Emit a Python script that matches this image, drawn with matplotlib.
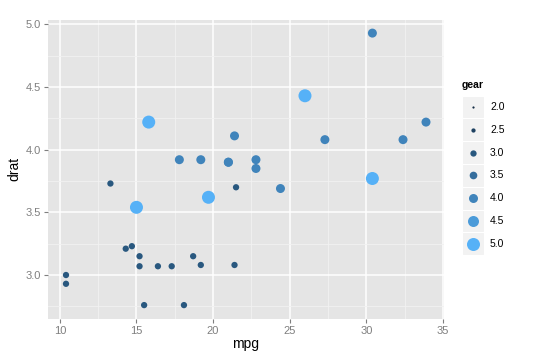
import numpy as np
import matplotlib
matplotlib.use("Agg")
import matplotlib.pyplot as plt
from matplotlib.colors import to_rgb
from matplotlib.patches import Rectangle

plt.rcParams["font.family"] = ["Liberation Sans", "DejaVu Sans"]

# mtcars: mpg, drat, gear
mpg = [21.0, 21.0, 22.8, 21.4, 18.7, 18.1, 14.3, 24.4, 22.8, 19.2, 17.8,
       16.4, 17.3, 15.2, 10.4, 10.4, 14.7, 32.4, 30.4, 33.9, 21.5, 15.5,
       15.2, 13.3, 19.2, 27.3, 26.0, 30.4, 15.8, 19.7, 15.0, 21.4]
drat = [3.90, 3.90, 3.85, 3.08, 3.15, 2.76, 3.21, 3.69, 3.92, 3.92, 3.92,
        3.07, 3.07, 3.07, 2.93, 3.00, 3.23, 4.08, 4.93, 4.22, 3.70, 2.76,
        3.15, 3.73, 3.08, 4.08, 4.43, 3.77, 4.22, 3.62, 3.54, 4.11]
gear = [4, 4, 4, 3, 3, 3, 3, 4, 4, 4, 4,
        3, 3, 3, 3, 3, 3, 4, 4, 4, 3, 3,
        3, 3, 3, 4, 5, 5, 5, 5, 5, 4]
legend_vals = [2.0, 2.5, 3.0, 3.5, 4.0, 4.5, 5.0]

low = np.array(to_rgb("#132B43"))
high = np.array(to_rgb("#56B1F7"))


def colour(g):
    t = (g - 2.0) / 3.0
    return tuple(low + (high - low) * t)


def size(g):
    d_px = np.interp(g, [2, 3, 4, 5], [2.2, 6.3, 9.0, 13.0])
    return (d_px * 0.72) ** 2


fig = plt.figure(figsize=(5.36, 3.61), dpi=100)
W, H = 536, 361
ax = fig.add_axes([48 / W, 1 - 318.7 / H, (444 - 48) / W, (318.7 - 19.5) / H])
ax.set_facecolor("#E5E5E5")
for s in ax.spines.values():
    s.set_visible(False)

ax.set_xlim(9.225, 35.075)
ax.set_ylim(2.6515, 5.0385)
ax.set_xticks([10, 15, 20, 25, 30, 35])
ax.set_yticks([3.0, 3.5, 4.0, 4.5, 5.0])
ax.set_yticklabels(["3.0", "3.5", "4.0", "4.5", "5.0"])
ax.set_xticks([12.5, 17.5, 22.5, 27.5, 32.5], minor=True)
ax.set_yticks([2.75, 3.25, 3.75, 4.25, 4.75], minor=True)
ax.grid(True, which="major", color="white", linewidth=1.1)
ax.grid(True, which="minor", color="#F2F2F2", linewidth=0.6)
ax.set_axisbelow(True)
ax.tick_params(which="major", colors="#7F7F7F", labelsize=8, length=3, width=0.8,
               pad=2)
ax.tick_params(which="minor", length=0)

ax.scatter(mpg, drat, s=[size(g) for g in gear], c=[colour(g) for g in gear],
           linewidths=0, zorder=3)

ax.set_xlabel("mpg", fontsize=10, labelpad=1)
ax.set_ylabel("drat", fontsize=10, labelpad=3)

# legend
fig.text(462 / W, 1 - 85 / H, "gear", fontsize=7.5, fontweight="bold",
         va="center", ha="left")
key_h = 22.8
top = 107 - key_h / 2
lax = fig.add_axes([462 / W, 1 - (top + key_h * 7) / H, 22 / W, key_h * 7 / H])
lax.set_xlim(0, 1)
lax.set_ylim(7, 0)
lax.axis("off")
for i, v in enumerate(legend_vals):
    lax.add_patch(Rectangle((0, i), 1, 1, facecolor="#F2F2F2", edgecolor="white",
                            linewidth=0.8))
    lax.scatter([0.5], [i + 0.5], s=size(v), color=colour(v), linewidths=0,
                zorder=3, clip_on=False)
    fig.text(490 / W, 1 - (107 + key_h * i) / H, f"{v:.1f}", fontsize=7.5,
             va="center", ha="left")

fig.savefig("out.png", dpi=100)
